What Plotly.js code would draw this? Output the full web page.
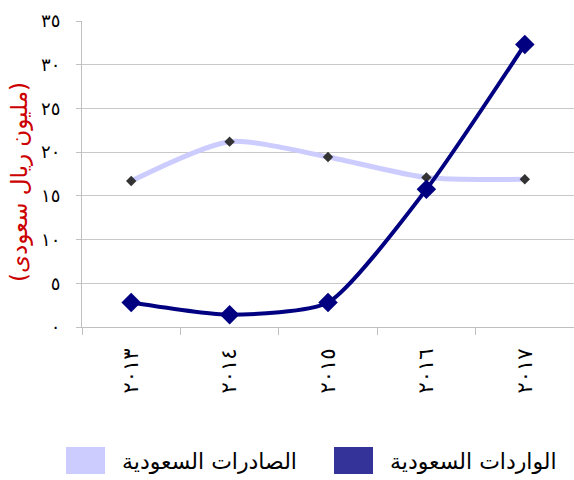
<!DOCTYPE html>
<html>
<head>
<meta charset="utf-8">
<script src="https://cdn.plot.ly/plotly-3.0.1.min.js"></script>
<style>html,body{margin:0;padding:0;background:#fff}#chart{width:574px;height:480px}</style>
</head>
<body>
<div id="chart"></div>
<script>
var years = ["٢٠١٣", "٢٠١٤", "٢٠١٥", "٢٠١٦", "٢٠١٧"];
var exportsVals = [16.7, 21.2, 19.45, 17.1, 16.9];
var importsVals = [2.8, 1.4, 2.8, 15.75, 32.3];
var seriesNames = ["الصادرات السعودية", "الواردات السعودية"];
var yTickVals = [0, 5, 10, 15, 20, 25, 30, 35];
var yTickText = ["٠", "٥", "١٠", "١٥", "٢٠", "٢٥", "٣٠", "٣٥"];
var yTitle = "(مليون ريال سعودى)";

var FONT = "DejaVu Sans, sans-serif";

var traces = [
  {
    x: years, y: exportsVals, name: seriesNames[0], type: "scatter", mode: "lines+markers",
    line: {color: "#CCCCFF", width: 5, shape: "spline", smoothing: 0.7},
    marker: {symbol: "diamond", size: 8, color: "#333333"},
    showlegend: false, cliponaxis: false
  },
  {
    x: years, y: importsVals, name: seriesNames[1], type: "scatter", mode: "lines+markers",
    line: {color: "#000080", width: 4, shape: "spline", smoothing: 0.6},
    marker: {symbol: "diamond", size: 15, color: "#000080"},
    showlegend: false, cliponaxis: false
  }
];

function px2x(px){ return (px - 82) / 492; }
function py2y(py){ return (327 - py) / 306; }

var layout = {
  width: 574, height: 480,
  margin: {l: 82, r: 0, t: 21, b: 153},
  paper_bgcolor: "#ffffff", plot_bgcolor: "#ffffff",
  showlegend: false,
  font: {family: FONT, color: "#000000"},
  xaxis: {
    type: "category",
    range: [-0.5, 4.5],
    tickson: "boundaries",
    ticks: "outside", ticklen: 7, tickcolor: "#c0c0c0", tickwidth: 1,
    showline: true, linecolor: "#c0c0c0", linewidth: 1,
    showgrid: false, zeroline: false,
    tickangle: -90,
    tickfont: {size: 21, family: FONT, color: "#000"},
    ticklabelstandoff: 12
  },
  yaxis: {
    range: [0, 35],
    tickvals: yTickVals, ticktext: yTickText,
    ticks: "outside", ticklen: 5, tickcolor: "#c0c0c0",
    showline: true, linecolor: "#c0c0c0", linewidth: 1,
    showgrid: true, gridcolor: "#c8c8c8", gridwidth: 1,
    zeroline: false,
    tickfont: {size: 18, family: FONT, color: "#000"},
    ticklabelstandoff: 12
  },
  shapes: [
    {type: "rect", xref: "paper", yref: "paper", x0: px2x(66), x1: px2x(105), y0: py2y(474), y1: py2y(447), line: {width: 0}, fillcolor: "#CCCCFF"},
    {type: "rect", xref: "paper", yref: "paper", x0: px2x(334), x1: px2x(373), y0: py2y(474), y1: py2y(447), line: {width: 0}, fillcolor: "#333399"}
  ],
  annotations: [
    {xref: "paper", yref: "paper", x: px2x(19), y: py2y(182), xanchor: "center", yanchor: "middle", textangle: -90, text: yTitle, showarrow: false, font: {size: 23, family: FONT, color: "#CC0000"}},
    {xref: "paper", yref: "paper", x: px2x(120), y: py2y(461), xanchor: "left", yanchor: "middle", text: seriesNames[0], showarrow: false, font: {size: 22, family: FONT, color: "#000"}},
    {xref: "paper", yref: "paper", x: px2x(388), y: py2y(461), xanchor: "left", yanchor: "middle", text: seriesNames[1], showarrow: false, font: {size: 22, family: FONT, color: "#000"}}
  ]
};

Plotly.newPlot("chart", traces, layout, {displayModeBar: false, staticPlot: true});
</script>
</body>
</html>
